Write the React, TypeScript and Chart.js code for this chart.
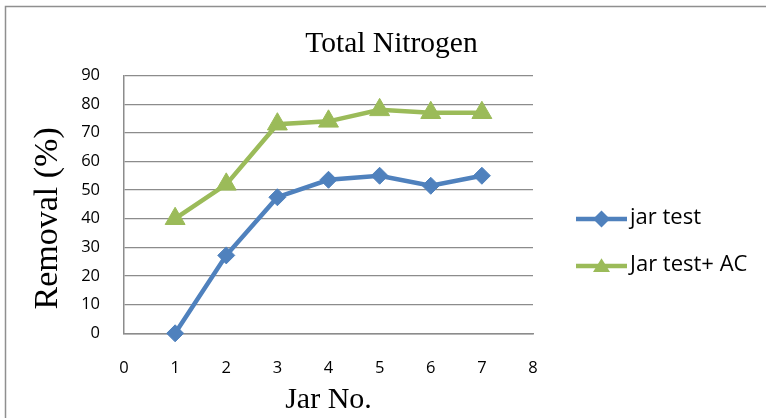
import { useEffect, useRef } from "react";
import { Chart, registerables } from "chart.js";

Chart.register(...registerables);

// Jar numbers and removal percentages
const jarNumbers = [1, 2, 3, 4, 5, 6, 7];
const jarTestRemoval = [0, 27.2, 47.5, 53.6, 55, 51.5, 55];
const jarTestAcRemoval = [40, 52, 73, 74, 78, 77, 77];
const seriesLabels = ["jar test", "Jar test+ AC"];

// Axis ranges and text
const xTickMin = 0;
const xTickMax = 8;
const xTickStep = 1;
const yTickMin = 0;
const yTickMax = 90;
const yTickStep = 10;
const chartTitle = "Total Nitrogen";
const xAxisTitle = "Jar No.";
const yAxisTitle = "Removal (%)";

const BLUE = "#4f81bd";
const GREEN = "#9bbb59";
const GRID = "#8c8c8c";
const SERIF = "'Liberation Serif', 'Times New Roman', serif";
const SANS = "'Open Sans', 'Noto Sans', sans-serif";

function toPoints(xs: number[], ys: number[]) {
  return xs.map((x, i) => ({ x, y: ys[i] }));
}

function drawMarker(ctx: CanvasRenderingContext2D, style: string, x: number, y: number, r: number) {
  ctx.beginPath();
  if (style === "rectRot") {
    ctx.moveTo(x - r, y);
    ctx.lineTo(x, y - r);
    ctx.lineTo(x + r, y);
    ctx.lineTo(x, y + r);
  } else {
    const h = r * 0.9;
    ctx.moveTo(x, y - h);
    ctx.lineTo(x + r, y + h * 0.8);
    ctx.lineTo(x - r, y + h * 0.8);
  }
  ctx.closePath();
  ctx.fill();
}

// Frame, chart title, rotated y title and the legend on the right
const decorations = {
  id: "decorations",
  beforeDraw(chart: any) {
    const ctx = chart.ctx as CanvasRenderingContext2D;
    ctx.save();
    ctx.strokeStyle = "#8f8f8f";
    ctx.lineWidth = 1.5;
    ctx.beginPath();
    ctx.moveTo(5.5, chart.height);
    ctx.lineTo(5.5, 6.5);
    ctx.lineTo(chart.width, 6.5);
    ctx.stroke();
    ctx.restore();
  },
  afterDraw(chart: any) {
    const ctx = chart.ctx as CanvasRenderingContext2D;
    const area = chart.chartArea;
    ctx.save();
    ctx.fillStyle = "#000";
    ctx.font = `29.5px ${SERIF}`;
    ctx.textAlign = "center";
    ctx.textBaseline = "alphabetic";
    ctx.fillText(chartTitle, 391.5, 52);

    ctx.save();
    ctx.translate(48.5, (area.top + area.bottom) / 2 + 14);
    ctx.rotate(-Math.PI / 2);
    ctx.font = `34px ${SERIF}`;
    ctx.textBaseline = "middle";
    ctx.fillText(yAxisTitle, 0, 0);
    ctx.restore();

    chart.data.datasets.forEach((ds: any, i: number) => {
      const y = area.top + 143.5 + i * 47;
      const x0 = area.right + 43;
      const x1 = x0 + 51;
      ctx.strokeStyle = ds.borderColor;
      ctx.lineWidth = ds.borderWidth;
      ctx.beginPath();
      ctx.moveTo(x0, y);
      ctx.lineTo(x1, y);
      ctx.stroke();
      ctx.fillStyle = ds.borderColor;
      drawMarker(ctx, ds.pointStyle, (x0 + x1) / 2, y, 8.5);
      ctx.fillStyle = "#000";
      ctx.font = `22px ${SANS}`;
      ctx.textAlign = "left";
      ctx.textBaseline = "middle";
      ctx.fillText(ds.label, x1 + 3, y - 1.5);
    });
    ctx.restore();
  },
};

export default function App() {
  const canvasRef = useRef<HTMLCanvasElement | null>(null);

  useEffect(() => {
    const canvas = canvasRef.current;
    if (!canvas) return;
    const chart = new Chart(canvas, {
      type: "line",
      data: {
        datasets: [
          {
            label: seriesLabels[0],
            data: toPoints(jarNumbers, jarTestRemoval),
            borderColor: BLUE,
            backgroundColor: BLUE,
            borderWidth: 4.5,
            pointStyle: "rectRot",
            pointRadius: 8.5,
            pointBorderWidth: 1,
            pointHoverRadius: 8.5,
            clip: false,
          },
          {
            label: seriesLabels[1],
            data: toPoints(jarNumbers, jarTestAcRemoval),
            borderColor: GREEN,
            backgroundColor: GREEN,
            borderWidth: 4.5,
            pointStyle: "triangle",
            pointRadius: 11.5,
            pointBorderWidth: 1,
            pointHoverRadius: 11.5,
            clip: false,
          },
        ],
      },
      options: {
        responsive: false,
        animation: false,
        events: [],
        layout: { padding: { left: 0, top: 75.5, right: 233, bottom: 0 } },
        plugins: {
          legend: { display: false },
          title: { display: false },
          tooltip: { enabled: false },
        },
        scales: {
          x: {
            type: "linear",
            min: xTickMin,
            max: xTickMax,
            afterFit: (scale: any) => {
              scale.height = 84.7;
            },
            ticks: {
              stepSize: xTickStep,
              color: "#000",
              padding: 25.5,
              font: { family: SANS, size: 16.5 },
            },
            grid: { display: false, drawTicks: false },
            border: { display: true, color: GRID, width: 1.5 },
            title: {
              display: true,
              text: xAxisTitle,
              color: "#000",
              font: { family: SERIF, size: 30, lineHeight: 1 },
              padding: { top: 0, bottom: 2.6 },
            },
          },
          y: {
            type: "linear",
            min: yTickMin,
            max: yTickMax,
            afterFit: (scale: any) => {
              scale.width = 124;
            },
            ticks: {
              stepSize: yTickStep,
              color: "#000",
              padding: 24,
              font: { family: SANS, size: 16.5 },
            },
            grid: { color: GRID, lineWidth: 1.2, drawTicks: false },
            border: { display: true, color: GRID, width: 1.5 },
          },
        },
      },
      plugins: [decorations],
    });
    return () => chart.destroy();
  }, []);

  return (
    <div style={{ position: "fixed", left: 0, top: 0, width: 766, height: 418, background: "#fff" }}>
      <canvas ref={canvasRef} width={766} height={418} style={{ display: "block" }} />
    </div>
  );
}
